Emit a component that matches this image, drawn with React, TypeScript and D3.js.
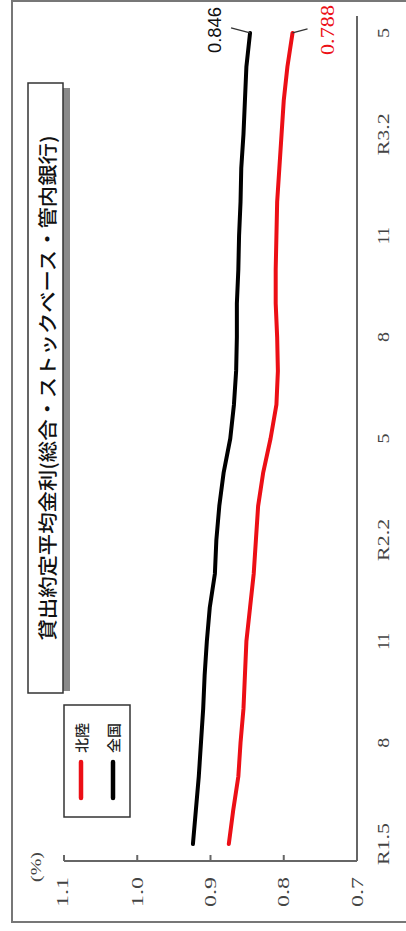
import React from "react";
import * as d3 from "d3";

const months: string[] = [
  "R1.5","R1.6","R1.7","R1.8","R1.9","R1.10","R1.11","R1.12",
  "R2.1","R2.2","R2.3","R2.4","R2.5","R2.6","R2.7","R2.8","R2.9","R2.10","R2.11","R2.12",
  "R3.1","R3.2","R3.3","R3.4","R3.5",
];
const tickMonths: string[] = ["R1.5","R1.8","R1.11","R2.2","R2.5","R2.8","R2.11","R3.2","R3.5"];
const tickLabels: string[] = ["R1.5","8","11","R2.2","5","8","11","R3.2","5"];

const hokuriku: number[] = [
  0.875,0.869,0.862,0.859,0.855,0.853,0.851,0.846,
  0.841,0.838,0.835,0.828,0.818,0.810,0.808,0.809,0.811,0.811,0.810,0.809,
  0.806,0.803,0.800,0.795,0.788,
];
const zenkoku: number[] = [
  0.924,0.920,0.916,0.913,0.910,0.908,0.905,0.901,
  0.894,0.892,0.888,0.882,0.873,0.868,0.865,0.864,0.864,0.862,0.861,0.859,
  0.858,0.855,0.853,0.851,0.846,
];
const valueTicks: number[] = [1.1, 1.0, 0.9, 0.8, 0.7];
const valueTickLabels: string[] = ["1.1", "1.0", "0.9", "0.8", "0.7"];

const title = "貸出約定平均金利(総合・ストックベース・管内銀行)";
const seriesNames = ["北陸", "全国"];

export default function App() {
  const W = 406, H = 931;
  const y = d3.scalePoint<string>().domain(months).range([861, 16]).padding(0.5);
  const x = d3.scaleLinear().domain([0.7, 1.1]).range([357, 64]);

  const line = d3
    .line<number>()
    .x((d) => x(d))
    .y((_, i) => y(months[i]) as number)
    .curve(d3.curveLinear);

  const lastI = months.length - 1;
  const lastY = y(months[lastI]) as number;
  const serif = "'Liberation Serif', 'DejaVu Serif', serif";
  const sans = "'Liberation Sans', Arial, sans-serif";
  const cjk = "'Noto Sans CJK JP', 'Noto Sans', sans-serif";
  const red = "#ec0f16";

  const rot = (cx: number, cy: number) => `translate(${cx},${cy}) rotate(-90)`;

  return (
    <svg
      width={W}
      height={H}
      style={{ position: "absolute", left: 0, top: 0, background: "#fff" }}
    >
      {/* outer frame */}
      <rect x={12} y={1} width={420} height={921} fill="none" stroke="#777" strokeWidth={2} />

      {/* title box with shadow */}
      <rect x={63} y={88} width={7} height={603} fill="#8a8a8a" />
      <rect x={28} y={83} width={35} height={610} fill="#fff" stroke="#333" strokeWidth={1.5} />
      <text
        transform={rot(46, 388)}
        textAnchor="middle"
        dominantBaseline="central"
        fontFamily={cjk}
        fontSize={19}
        fontWeight={500}
        textLength={505}
        lengthAdjust="spacingAndGlyphs"
        fill="#111"
      >
        {title}
      </text>

      {/* legend */}
      <rect x={64} y={705} width={66} height={112} fill="#fff" stroke="#333" strokeWidth={1.5} />
      {seriesNames.map((n, i) => {
        const cx = i === 0 ? 81 : 113;
        return (
          <g key={n}>
            <line x1={cx} x2={cx} y1={762} y2={798} stroke={i === 0 ? red : "#000"} strokeWidth={4.5} strokeLinecap="round" />
            <text
              transform={rot(cx, 738)}
              textAnchor="middle"
              dominantBaseline="central"
              fontFamily={cjk}
              fontSize={14}
              fontWeight={500}
              textLength={30}
              lengthAdjust="spacingAndGlyphs"
              fill="#222"
            >
              {n}
            </text>
          </g>
        );
      })}

      {/* value axis (horizontal at bottom) */}
      <line x1={x(1.1)} x2={x(0.7)} y1={861} y2={861} stroke="#666" strokeWidth={2} />
      {valueTicks.map((v) => (
        <line key={"t" + v} x1={x(v)} x2={x(v)} y1={861} y2={855} stroke="#666" strokeWidth={2} />
      ))}
      {valueTicks.map((v, i) => (
        <text
          key={"l" + v}
          transform={rot(x(v) - (i === 0 ? 2 : 0), 892)}
          textAnchor="middle"
          dominantBaseline="central"
          fontFamily={serif}
          fontSize={17}
          textLength={30}
          lengthAdjust="spacingAndGlyphs"
          fill="#444"
        >
          {valueTickLabels[i]}
        </text>
      ))}
      <text
        transform={rot(36, 867)}
        textAnchor="middle"
        dominantBaseline="central"
        fontFamily={serif}
        fontSize={15}
        textLength={30}
        lengthAdjust="spacingAndGlyphs"
        fill="#444"
      >
        (%)
      </text>

      {/* category axis (vertical at right) */}
      <line x1={357} x2={357} y1={861} y2={16} stroke="#666" strokeWidth={2} />
      {tickMonths.map((m, i) => {
        const lab = tickLabels[i];
        const len = lab.length >= 4 ? 42 : lab.length === 2 ? 17 : 10;
        return (
          <text
            key={"c" + i}
            transform={rot(383, y(m) as number)}
            textAnchor="middle"
            dominantBaseline="central"
            fontFamily={serif}
            fontSize={17}
            textLength={len}
            lengthAdjust="spacingAndGlyphs"
            fill="#444"
          >
            {lab}
          </text>
        );
      })}

      {/* series */}
      <path d={line(zenkoku) || ""} fill="none" stroke="#000" strokeWidth={4} strokeLinejoin="round" strokeLinecap="round" />
      <path d={line(hokuriku) || ""} fill="none" stroke={red} strokeWidth={4} strokeLinejoin="round" strokeLinecap="round" />

      {/* end labels */}
      <line x1={x(zenkoku[lastI])} y1={lastY} x2={x(zenkoku[lastI]) - 19} y2={lastY - 5} stroke="#333" strokeWidth={1.3} />
      <text
        transform={rot(214, 30)}
        textAnchor="middle"
        dominantBaseline="central"
        fontFamily={sans}
        fontSize={19}
        textLength={46}
        lengthAdjust="spacingAndGlyphs"
        fill="#111"
      >
        {zenkoku[lastI].toFixed(3)}
      </text>
      <line x1={x(hokuriku[lastI])} y1={lastY} x2={x(hokuriku[lastI]) + 15} y2={lastY - 4} stroke="#333" strokeWidth={1.3} />
      <text
        transform={rot(328, 30)}
        textAnchor="middle"
        dominantBaseline="central"
        fontFamily={serif}
        fontSize={18}
        textLength={50}
        lengthAdjust="spacingAndGlyphs"
        fill={red}
      >
        {hokuriku[lastI].toFixed(3)}
      </text>
    </svg>
  );
}
